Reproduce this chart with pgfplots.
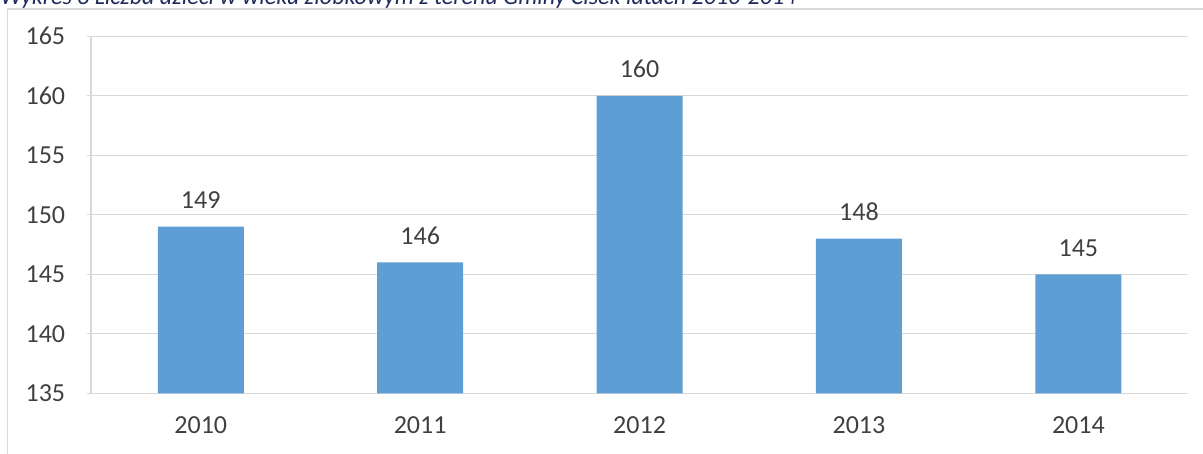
\documentclass[border=0pt]{standalone}
\usepackage{fontspec}
\setmainfont{Carlito}
\usepackage{pgfplots}
\pgfplotsset{compat=1.18}
\definecolor{gridgray}{HTML}{D9D9D9}
\definecolor{barblue}{HTML}{5F9ED4}
\definecolor{txt}{HTML}{404040}
\definecolor{titlec}{HTML}{1F2A5C}
\begin{document}
\begin{tikzpicture}[x=1pt,y=1pt]
\path[use as bounding box] (0,0) rectangle (601.5,227);
\clip (0,0) rectangle (601.5,227);
\draw[gridgray, line width=0.6pt] (3.75,-5) -- (3.75,222.5) -- (610,222.5);
\node[anchor=base west, inner sep=0pt, text=titlec, font=\fontsize{12}{14}\selectfont\itshape] at (0,224.75) {Wykres 3 Liczba dzieci w wieku żłobkowym z terenu Gminy Cisek latach 2010-2014};
\begin{axis}[
  at={(41.5,51)}, anchor=south west,
  scale only axis, width=548.5pt, height=178.5pt,
  ybar, bar width=43pt,
  xmin=-0.5, xmax=4.5, ymin=135, ymax=165,
  ytick={135,140,...,165},
  xtick={0,1,2,3,4},
  xticklabels={2010,2011,2012,2013,2014},
  x tick style={draw=none},
  extra x ticks={-0.5,0.5,1.5,2.5,3.5,4.5},
  extra x tick labels={},
  extra x tick style={major tick length=4.5pt, tick align=outside, tick style={draw=gridgray, line width=0.6pt}},
  y tick style={draw=gridgray, line width=0.6pt},
  major tick length=4.5pt, tick align=outside,
  ymajorgrids, grid style={gridgray, line width=0.6pt},
  axis lines=left, axis line style={-, draw=gridgray, line width=0.6pt},
  tick label style={font=\fontsize{13}{15}\selectfont, text=txt, inner sep=0pt},
  yticklabel style={anchor=east, xshift=-10.5pt},
  xticklabel style={anchor=north, yshift=-9pt},
  /pgf/number format/assume math mode=true,
  nodes near coords,
  every node near coord/.append style={font=\fontsize{13}{15}\selectfont, text=txt, anchor=base, inner sep=0pt, yshift=9pt},
  clip=false,
]
\addplot[fill=barblue, draw=none] coordinates {(0,149) (1,146) (2,160) (3,148) (4,145)};
\end{axis}
\end{tikzpicture}
\end{document}
